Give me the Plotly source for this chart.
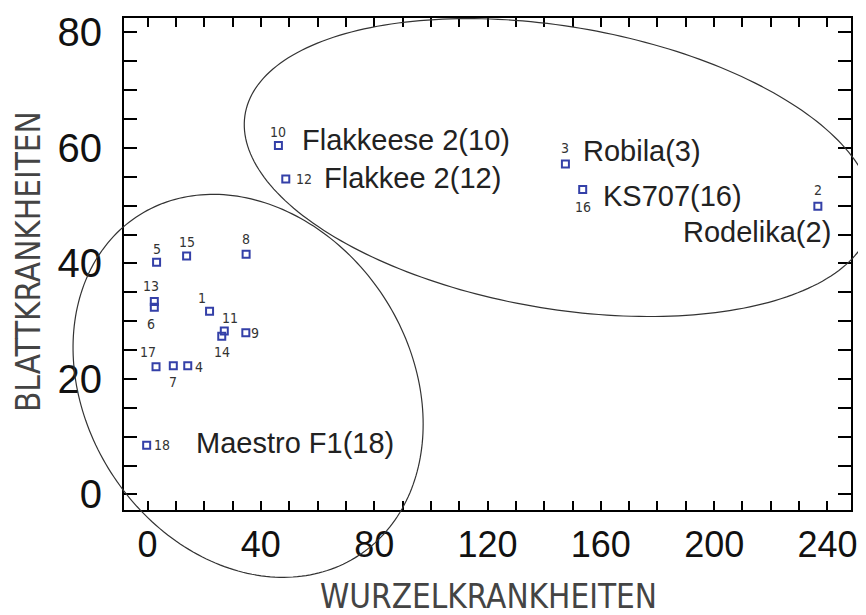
import numpy as np
import plotly.graph_objects as go

# ---------------- data ----------------
point_ids = ["1", "2", "3", "4", "5", "6", "7", "8", "9", "10",
             "11", "12", "13", "14", "15", "16", "17", "18"]
wurzel = [21.9, 236.6, 147.5, 14.2, 3.2, 2.4, 9.1, 34.8, 34.7, 46.2,
          27.1, 48.8, 2.4, 26.2, 13.8, 153.6, 3.0, -0.3]
blatt = [31.7, 49.9, 57.2, 22.3, 40.2, 32.4, 22.3, 41.6, 28.0, 60.4,
         28.3, 54.6, 33.4, 27.4, 41.3, 52.8, 22.1, 8.5]

name_ids = ["10", "12", "3", "16", "2", "18"]
name_texts = ["Flakkeese 2(10)", "Flakkee 2(12)", "Robila(3)", "KS707(16)",
              "Rodelika(2)", "Maestro F1(18)"]

x_tickvals = [0, 40, 80, 120, 160, 200, 240]
y_tickvals = [0, 20, 40, 60, 80]
x_title = "WURZELKRANKHEITEN"
y_title = "BLATTKRANKHEITEN"

# group ellipse centres (data units)
ell_cx = [145.1, 35.5]
ell_cy = [56.6, 18.8]

# ---------------- styling / positions ----------------
# screen-pixel offsets of the small number labels (dx right, dy down)
num_dx = [-8, 0, 0, 11, 0, -3, 0, 0, 9, 0, 6, 18, -3, 0, 0, 0, -8, 15]
num_dy = [-13, -16, -16, 1, -13, 17, 16, -15, 0, -14, -13, 0, -16, 16, -14, 17, -15, 0]
name_anchor = ["left", "left", "left", "left", "right", "left"]
name_dx = [22, 36, 16, 18, 15, 47]
name_dy = [-6, -1, -13, 6, 26, -2]
# ellipse shape in screen pixels
ell_a = [318.0, 202.5]
ell_b = [141.0, 162.2]
ell_theta = [9.7, 57.1]

# the page body adds an 8 px offset, so the figure is 8 px smaller
PAGE_OFF = 8
W, H = 866 - PAGE_OFF, 615 - PAGE_OFF
ML, MT = 124 - PAGE_OFF, 18 - PAGE_OFF
MR, MB = 15, 105
PW, PH = W - ML - MR, H - MT - MB
SCR_L, SCR_B = 124, 18 + PH       # plot-area edges in screen pixels
XR = [-8.3, 248.3]
YR = [-2.7, 82.5]

MARK_COLOR = "#3440a8"
SANS = "Liberation Sans, Arial, sans-serif"
NARROW = "Liberation Sans Narrow, Arial Narrow, DejaVu Sans Condensed, Liberation Sans, sans-serif"

fig = go.Figure()
fig.add_trace(go.Scatter(
    x=wurzel, y=blatt, mode="markers",
    marker=dict(symbol="square-open", size=7, color=MARK_COLOR,
                line=dict(color=MARK_COLOR, width=2)),
    cliponaxis=False, showlegend=False, hoverinfo="skip"))

annotations = []
for pid, xv, yv, dx, dy in zip(point_ids, wurzel, blatt, num_dx, num_dy):
    annotations.append(dict(
        x=xv, y=yv, xref="x", yref="y", text=pid, showarrow=False,
        xanchor="center", yanchor="middle", xshift=dx, yshift=-dy,
        font=dict(family="Liberation Sans Narrow, DejaVu Sans Condensed, Liberation Sans, sans-serif",
                  size=14, color="#333333")))

for nid, txt, anc, dx, dy in zip(name_ids, name_texts, name_anchor, name_dx, name_dy):
    i = point_ids.index(nid)
    annotations.append(dict(
        x=wurzel[i], y=blatt[i], xref="x", yref="y", text=txt, showarrow=False,
        xanchor=anc, yanchor="middle", xshift=dx, yshift=-dy,
        font=dict(family=SANS, size=29, color="#222222")))

annotations.append(dict(
    x=(488 - SCR_L) / PW, y=(SCR_B - 596) / PH, xref="paper", yref="paper",
    text=x_title, showarrow=False, xanchor="center", yanchor="middle",
    font=dict(family=NARROW, size=33, color="#444444")))
annotations.append(dict(
    x=(28 - SCR_L) / PW, y=(SCR_B - 262) / PH, xref="paper", yref="paper",
    text=y_title, showarrow=False, xanchor="center", yanchor="middle", textangle=-90,
    font=dict(family=NARROW, size=33, color="#444444")))

# ellipses (drawn in paper coordinates so they are not clipped)
shapes = []
t = np.linspace(0, 2 * np.pi, 240)
for cx, cy, a, b, th in zip(ell_cx, ell_cy, ell_a, ell_b, ell_theta):
    th = np.radians(th)
    cxp = (cx - XR[0]) / (XR[1] - XR[0])
    cyp = (cy - YR[0]) / (YR[1] - YR[0])
    X = a * np.cos(t) * np.cos(th) - b * np.sin(t) * np.sin(th)
    Y = a * np.cos(t) * np.sin(th) + b * np.sin(t) * np.cos(th)
    xp = cxp + X / PW
    yp = cyp - Y / PH
    path = "M " + " L ".join(f"{u:.5f},{v:.5f}" for u, v in zip(xp, yp)) + " Z"
    shapes.append(dict(type="path", path=path, xref="paper", yref="paper",
                       line=dict(color="#333333", width=1.2), layer="above"))

fig.update_layout(
    width=W, height=H,
    margin=dict(l=ML, r=MR, t=MT, b=MB, pad=0, autoexpand=False),
    paper_bgcolor="white", plot_bgcolor="white",
    annotations=annotations, shapes=shapes,
    xaxis=dict(range=XR, showgrid=False, zeroline=False, automargin=False,
               tickvals=list(range(0, 250, 10)),
               ticktext=[str(v) if v in x_tickvals else "" for v in range(0, 250, 10)],
               ticks="inside", ticklen=9, tickwidth=1.5, tickcolor="black",
               showline=True, linecolor="black", linewidth=2, mirror="ticks",
               ticklabelstandoff=2,
               tickfont=dict(family=SANS, size=36, color="#111111")),
    yaxis=dict(range=YR, showgrid=False, zeroline=False, automargin=False,
               tickvals=list(range(0, 85, 5)),
               ticktext=[str(v) if v in y_tickvals else "" for v in range(0, 85, 5)],
               ticks="inside", ticklen=13, tickwidth=1.5, tickcolor="black",
               showline=True, linecolor="black", linewidth=2, mirror="ticks",
               ticklabelstandoff=12,
               tickfont=dict(family=SANS, size=40, color="#111111")),
)

fig.write_html("out.html")
